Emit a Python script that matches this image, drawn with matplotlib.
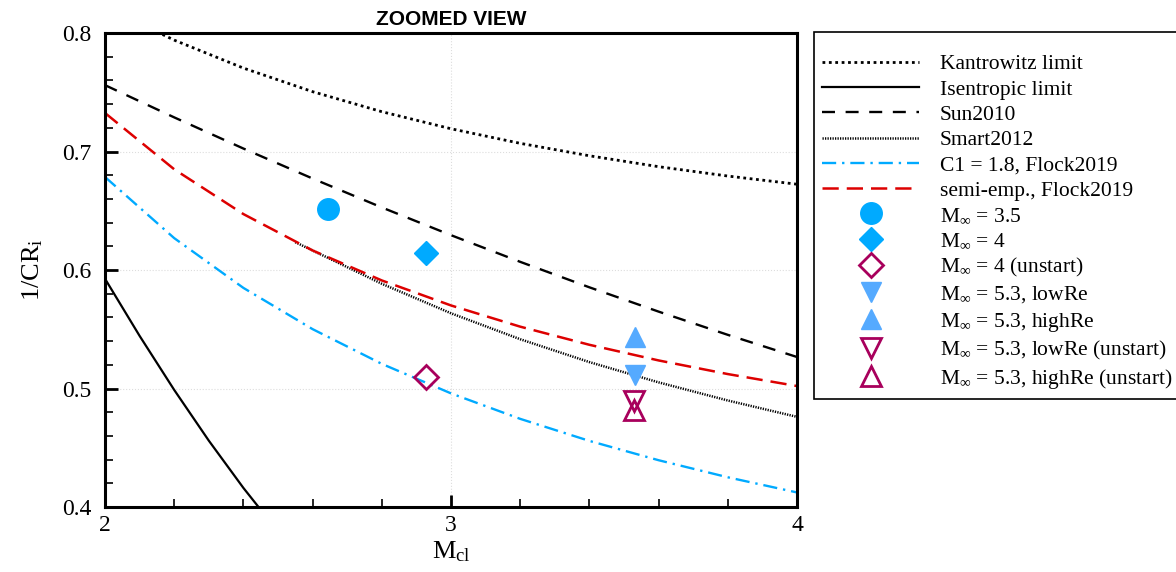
import matplotlib
matplotlib.use('Agg')
import matplotlib.pyplot as plt
from matplotlib.ticker import MultipleLocator

plt.rcParams['font.family'] = ['Liberation Serif', 'DejaVu Serif']
plt.rcParams['mathtext.fontset'] = 'custom'
plt.rcParams['mathtext.rm'] = 'Liberation Serif'
plt.rcParams['mathtext.it'] = 'Liberation Serif:italic'

# curves
mach = [2.0, 2.2, 2.4, 2.6, 2.8, 3.0, 3.2, 3.4, 3.6, 3.8, 4.0]
kantrowitz = [0.8222, 0.7940, 0.7704, 0.7505, 0.7336, 0.7192, 0.7069, 0.6964, 0.6872, 0.6793, 0.6724]
sun2010 = [0.756, 0.7288, 0.7025, 0.6772, 0.6528, 0.6294, 0.6069, 0.5854, 0.5649, 0.5453, 0.5266]
flock_c1 = [0.6785, 0.6269, 0.5849, 0.5501, 0.5208, 0.4959, 0.4744, 0.4558, 0.4395, 0.4251, 0.4123]
flock_semi = [0.7325, 0.6850, 0.6472, 0.6165, 0.5912, 0.5701, 0.5522, 0.5369, 0.5237, 0.5122, 0.5021]

mach_isen = [2.0, 2.1, 2.2, 2.3, 2.4, 2.5]
isentropic = [0.5926, 0.5444, 0.4988, 0.4560, 0.4161, 0.3793]

mach_smart = [2.55, 2.6, 2.8, 3.0, 3.2, 3.4, 3.6, 3.8, 4.0]
smart2012 = [0.6235, 0.6165, 0.5884, 0.5635, 0.5416, 0.5223, 0.5052, 0.4899, 0.4761]

# experiment points
m35_x, m35_y = [2.645], [0.6515]
m4_x, m4_y = [2.928], [0.6143]
m4u_x, m4u_y = [2.928], [0.5097]
low_x, low_y = [3.532], [0.5114]
high_x, high_y = [3.532], [0.5435]
lowu_x, lowu_y = [3.528], [0.4895]
highu_x, highu_y = [3.528], [0.4819]

blue = '#00AAFF'
lblue = '#55AAFF'
purple = '#A8005C'
red = '#DD0000'

fig = plt.figure(figsize=(11.76, 5.72), dpi=100)
ax = fig.add_axes([0.0893, 0.1136, 0.5884, 0.8287])

ax.plot(mach, kantrowitz, color='black', lw=2.0, linestyle=(0, (1, 1.3)), label='Kantrowitz limit')
ax.plot(mach_isen, isentropic, color='black', lw=1.6, label='Isentropic limit')
ax.plot(mach, sun2010, color='black', lw=1.7, linestyle=(0, (5.5, 4.5)), label='Sun2010')
ax.plot(mach_smart, smart2012, color='black', lw=1.8, linestyle=(0, (0.5, 0.5)), label='Smart2012')
ax.plot(mach, flock_c1, color=blue, lw=1.7, linestyle=(0, (6, 2.5, 1, 2.5)), label='C1 = 1.8, Flock2019')
ax.plot(mach, flock_semi, color=red, lw=1.8, linestyle=(0, (6.5, 3.2)), label='semi-emp., Flock2019')

ax.plot(m35_x, m35_y, 'o', ms=15.5, color=blue, mec=blue, label=r'M$_\infty$ = 3.5')
ax.plot(m4_x, m4_y, 'D', ms=12, color=blue, mec=blue, label=r'M$_\infty$ = 4')
ax.plot(m4u_x, m4u_y, 'D', ms=12, mfc='none', mec=purple, mew=2, label=r'M$_\infty$ = 4 (unstart)')
ax.plot(low_x, low_y, 'v', ms=14.5, color=lblue, mec=lblue, label=r'M$_\infty$ = 5.3, lowRe')
ax.plot(high_x, high_y, '^', ms=14.5, color=lblue, mec=lblue, label=r'M$_\infty$ = 5.3, highRe')
ax.plot(lowu_x, lowu_y, 'v', ms=14.5, mfc='none', mec=purple, mew=2, label=r'M$_\infty$ = 5.3, lowRe (unstart)')
ax.plot(highu_x, highu_y, '^', ms=14.5, mfc='none', mec=purple, mew=2, label=r'M$_\infty$ = 5.3, highRe (unstart)')

ax.set_xlim(2, 4)
ax.set_ylim(0.4, 0.8)
ax.xaxis.set_major_locator(MultipleLocator(1))
ax.xaxis.set_minor_locator(MultipleLocator(0.2))
ax.yaxis.set_major_locator(MultipleLocator(0.1))
ax.yaxis.set_minor_locator(MultipleLocator(0.02))
ax.grid(True, which='major', color='#DDDDDD', linestyle=':', lw=0.8)
ax.tick_params(which='major', direction='in', length=9, width=2, labelsize=17, pad=6)
ax.tick_params(axis='y', which='major', pad=10)
ax.tick_params(which='minor', direction='in', length=6, width=1.2)
for sp in ax.spines.values():
    sp.set_linewidth(2.2)

ax.set_xlabel(r'M$_{\mathrm{cl}}$', fontsize=19, labelpad=2)
ax.set_ylabel(r'1/CR$_{\mathrm{i}}$', fontsize=19, labelpad=12)
ax.set_title('ZOOMED VIEW', fontsize=15, fontweight='bold', family='Liberation Sans', pad=6)

leg = ax.legend(loc='upper left', bbox_to_anchor=(814 / 1176, 1 - 32 / 572),
                bbox_transform=fig.transFigure, borderaxespad=0, fontsize=15.5,
                numpoints=1, handlelength=4.5, handletextpad=0.95, labelspacing=0.24,
                borderpad=0.38, fancybox=False, framealpha=1, edgecolor='black',
                title=' ', title_fontsize=7)
leg.get_frame().set_linewidth(1.2)

fig.savefig('out.png', dpi=100)
